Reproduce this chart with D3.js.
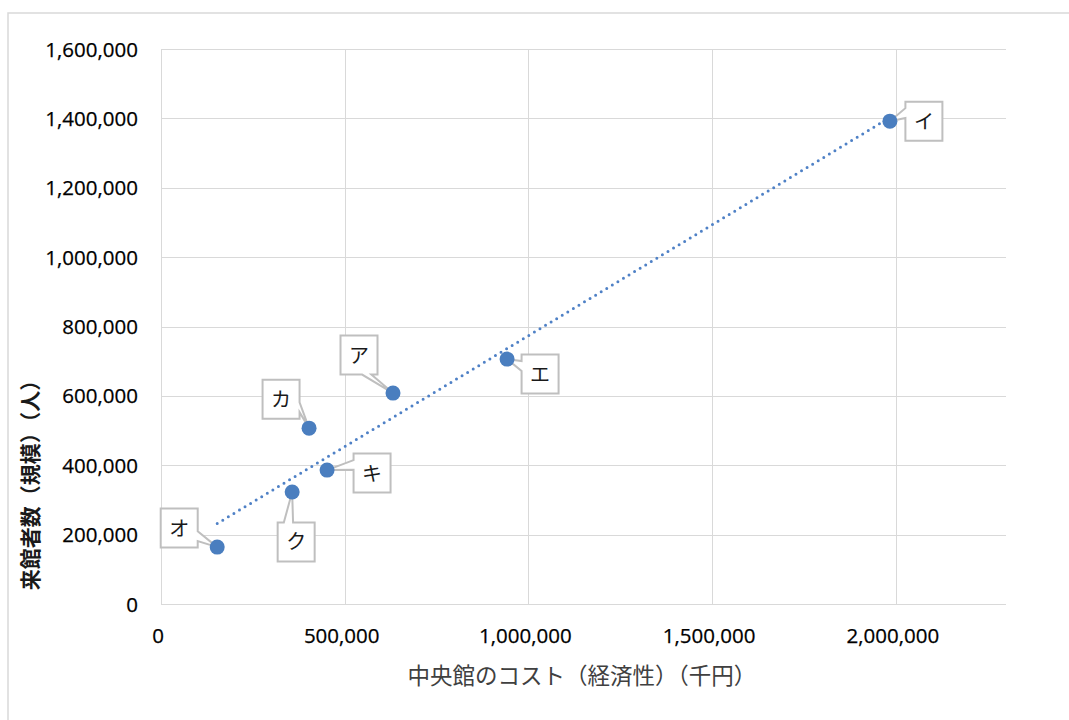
<!DOCTYPE html>
<html>
<head>
<meta charset="utf-8">
<script src="https://cdn.jsdelivr.net/npm/d3@7"></script>
<style>
html,body{margin:0;padding:0;background:#fff;}
svg{display:block;}
</style>
</head>
<body>
<svg id="chart" width="1069" height="720"></svg>
<script>
// ---- data ----
const labels = ["ア", "イ", "エ", "オ", "カ", "キ", "ク"];
const costs = [631500, 1984000, 942000, 153000, 403000, 452000, 357000];      // 中央館のコスト（千円）
const visitors = [608000, 1392000, 706000, 164000, 507000, 386000, 323000];   // 来館者数（人）
const xTicks = [0, 500000, 1000000, 1500000, 2000000];
const yTicks = [0, 200000, 400000, 600000, 800000, 1000000, 1200000, 1400000, 1600000];
const xTitle = "中央館のコスト（経済性）（千円）";
const yTitle = "来館者数（規模）（人）";

// ---- layout (label box offsets from each point, px) ----
const labelOffsets = {
  "ア": [-34, -38], "イ": [34, 0], "エ": [33, 15], "オ": [-38, -19],
  "カ": [-28, -29], "キ": [45, 3], "ク": [4, 50]
};

const svg = d3.select("#chart");
const fmt = d3.format(",");
const x = d3.scaleLinear().domain([0, 2300000]).range([161, 1006]);
const y = d3.scaleLinear().domain([0, 1600000]).range([604, 49]);

// outer chart border
svg.append("rect").attr("x", 8).attr("y", 13).attr("width", 1200).attr("height", 900)
  .attr("fill", "#fff").attr("stroke", "#d9d9d9").attr("stroke-width", 1.5);

// gridlines
const grid = svg.append("g");
grid.selectAll("line.h").data(yTicks).join("line")
  .attr("x1", x(0)).attr("x2", x(2300000))
  .attr("y1", d => Math.round(y(d)) + 0.5).attr("y2", d => Math.round(y(d)) + 0.5)
  .attr("stroke", "#d9d9d9").attr("stroke-width", 1);
grid.selectAll("line.v").data(xTicks).join("line")
  .attr("y1", y(0)).attr("y2", y(1600000))
  .attr("x1", d => Math.round(x(d)) + 0.5).attr("x2", d => Math.round(x(d)) + 0.5)
  .attr("stroke", "#d9d9d9").attr("stroke-width", 1);

// axes tick labels
const tickFont = "'Open Sans','Noto Sans',sans-serif";
svg.append("g").selectAll("text").data(yTicks).join("text")
  .attr("x", 138).attr("y", d => y(d) + 7.5)
  .attr("text-anchor", "end")
  .attr("font-family", tickFont).attr("font-size", 20.5).attr("fill", "#000")
  .attr("stroke", "#000").attr("stroke-width", 0.25)
  .text(d => fmt(d));
svg.append("g").selectAll("text").data(xTicks).join("text")
  .attr("x", d => x(d) - 3).attr("y", 643)
  .attr("text-anchor", "middle")
  .attr("font-family", tickFont).attr("font-size", 20.5).attr("fill", "#000")
  .attr("stroke", "#000").attr("stroke-width", 0.25)
  .text(d => fmt(d));

// axis titles
svg.append("text").attr("x", 582).attr("y", 684).attr("text-anchor", "middle")
  .attr("font-family", "'Noto Sans CJK JP',sans-serif").attr("font-size", 22.5)
  .attr("fill", "#404040").text(xTitle);
svg.append("text").attr("transform", "translate(38,480) rotate(-90)").attr("text-anchor", "middle")
  .attr("font-family", "'Noto Sans CJK JP',sans-serif").attr("font-size", 21).attr("font-weight", "bold")
  .attr("fill", "#1a1a1a").text(yTitle);

// trendline (least squares)
const n = costs.length;
const mx = d3.mean(costs), my = d3.mean(visitors);
let sxy = 0, sxx = 0;
for (let i = 0; i < n; i++) { sxy += (costs[i] - mx) * (visitors[i] - my); sxx += (costs[i] - mx) ** 2; }
const slope = sxy / sxx, icpt = my - slope * mx;
const [xmin, xmax] = d3.extent(costs);
svg.append("line")
  .attr("x1", x(xmin)).attr("y1", y(slope * xmin + icpt))
  .attr("x2", x(xmax)).attr("y2", y(slope * xmax + icpt))
  .attr("stroke", "#4f81c6").attr("stroke-width", 3)
  .attr("stroke-linecap", "round").attr("stroke-dasharray", "0 6.5");

// callouts
const pts = labels.map((l, i) => ({ label: l, px: x(costs[i]), py: y(visitors[i]) }));
const bw = 37, bh = 39;
function calloutPath(d) {
  const off = labelOffsets[d.label];
  const cx = d.px + off[0], cy = d.py + off[1];
  const L = cx - bw / 2, R = cx + bw / 2, T = cy - bh / 2, B = cy + bh / 2;
  const dxp = d.px - cx, dyp = d.py - cy;
  const dxn = dxp * bh, dyn = dyp * bw;
  const inside = d.px >= L && d.px <= R && d.py >= T && d.py <= B;
  const p = d3.path();
  if (inside) { p.rect(L, T, bw, bh); return p.toString(); }
  if (Math.abs(dxn) > Math.abs(dyn)) {
    const y3 = T + bh * (dyp > 0 ? 7 : 2) / 12, y4 = T + bh * (dyp > 0 ? 10 : 5) / 12;
    if (dxp < 0) {
      p.moveTo(L, T); p.lineTo(R, T); p.lineTo(R, B); p.lineTo(L, B);
      p.lineTo(L, y4); p.lineTo(d.px, d.py); p.lineTo(L, y3); p.closePath();
    } else {
      p.moveTo(L, T); p.lineTo(R, T); p.lineTo(R, y3); p.lineTo(d.px, d.py);
      p.lineTo(R, y4); p.lineTo(R, B); p.lineTo(L, B); p.closePath();
    }
  } else {
    const x3 = L + bw * (dxp > 0 ? 7 : 2) / 12, x4 = L + bw * (dxp > 0 ? 10 : 5) / 12;
    if (dyp < 0) {
      p.moveTo(L, T); p.lineTo(x3, T); p.lineTo(d.px, d.py); p.lineTo(x4, T);
      p.lineTo(R, T); p.lineTo(R, B); p.lineTo(L, B); p.closePath();
    } else {
      p.moveTo(L, T); p.lineTo(R, T); p.lineTo(R, B); p.lineTo(x4, B);
      p.lineTo(d.px, d.py); p.lineTo(x3, B); p.lineTo(L, B); p.closePath();
    }
  }
  return p.toString();
}
const cg = svg.append("g");
cg.selectAll("path").data(pts).join("path")
  .attr("d", calloutPath).attr("fill", "#fff")
  .attr("stroke", "#bfbfbf").attr("stroke-width", 2).attr("stroke-linejoin", "miter");
cg.selectAll("text").data(pts).join("text")
  .attr("x", d => d.px + labelOffsets[d.label][0])
  .attr("y", d => d.py + labelOffsets[d.label][1] + 7.5)
  .attr("text-anchor", "middle")
  .attr("font-family", "'Noto Sans CJK JP',sans-serif").attr("font-size", 20)
  .attr("fill", "#1a1a1a").text(d => d.label);

// points
svg.append("g").selectAll("circle").data(pts).join("circle")
  .attr("cx", d => d.px).attr("cy", d => d.py).attr("r", 7.5)
  .attr("fill", "#4a7ebf");
</script>
</body>
</html>
